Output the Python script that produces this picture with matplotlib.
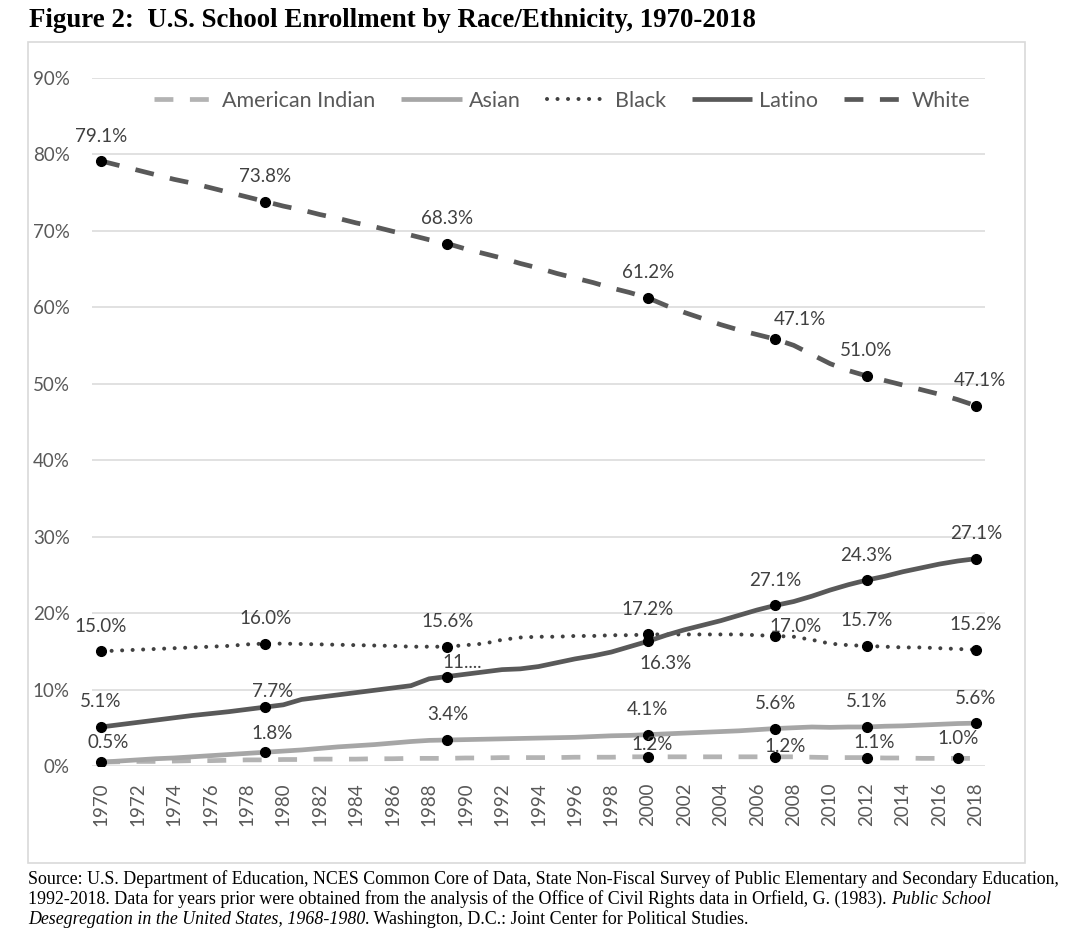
import numpy as np
import matplotlib.pyplot as plt
from matplotlib.lines import Line2D
from matplotlib.patches import Rectangle

years = np.arange(1970, 2019)

american_indian = [0.5, 0.55, 0.6, 0.6, 0.65, 0.7, 0.7, 0.75, 0.8, 0.8,
                   0.85, 0.85, 0.9, 0.9, 0.9, 0.95, 0.95, 1.0, 1.0, 1.0,
                   1.05, 1.05, 1.1, 1.1, 1.1, 1.1, 1.15, 1.15, 1.15, 1.2,
                   1.2, 1.2, 1.2, 1.2, 1.2, 1.2, 1.2, 1.2, 1.2, 1.15,
                   1.1, 1.1, 1.1, 1.05, 1.05, 1.0, 1.0, 1.0, 1.0]
asian = [0.5, 0.65, 0.8, 0.95, 1.05, 1.2, 1.35, 1.5, 1.65, 1.8,
         1.95, 2.1, 2.3, 2.5, 2.65, 2.8, 3.0, 3.2, 3.35, 3.4,
         3.45, 3.5, 3.55, 3.6, 3.65, 3.7, 3.75, 3.85, 3.95, 4.0,
         4.1, 4.2, 4.3, 4.4, 4.5, 4.6, 4.75, 4.9, 5.0, 5.1,
         5.05, 5.1, 5.1, 5.2, 5.25, 5.35, 5.45, 5.55, 5.6]
black = [15.0, 15.1, 15.2, 15.3, 15.4, 15.5, 15.6, 15.7, 15.9, 16.0,
         16.0, 15.95, 15.9, 15.85, 15.8, 15.75, 15.7, 15.6, 15.6, 15.6,
         15.8, 16.0, 16.5, 16.8, 16.9, 16.9, 17.0, 17.0, 17.1, 17.1,
         17.2, 17.2, 17.2, 17.2, 17.2, 17.2, 17.1, 17.0, 16.9, 16.5,
         16.0, 15.8, 15.7, 15.6, 15.5, 15.5, 15.4, 15.3, 15.2]
latino = [5.1, 5.4, 5.7, 6.0, 6.3, 6.6, 6.85, 7.1, 7.4, 7.7,
          8.0, 8.7, 9.0, 9.3, 9.6, 9.9, 10.2, 10.5, 11.4, 11.7,
          12.0, 12.3, 12.6, 12.7, 13.0, 13.5, 14.0, 14.4, 14.9, 15.6,
          16.3, 17.1, 17.8, 18.4, 19.0, 19.7, 20.4, 21.0, 21.5, 22.2,
          23.0, 23.7, 24.3, 24.8, 25.4, 25.9, 26.4, 26.8, 27.1]
white = [79.1, 78.5, 77.9, 77.3, 76.7, 76.2, 75.6, 75.0, 74.4, 73.8,
         73.2, 72.7, 72.1, 71.6, 71.0, 70.5, 69.9, 69.4, 68.8, 68.3,
         67.6, 67.0, 66.4, 65.7, 65.1, 64.4, 63.8, 63.2, 62.5, 61.9,
         61.2, 60.2, 59.3, 58.5, 57.7, 57.0, 56.4, 55.8, 55.0, 53.8,
         52.6, 51.7, 51.0, 50.4, 49.8, 49.2, 48.6, 47.9, 47.1]

label_years = [1970, 1979, 1989, 2000, 2007, 2012, 2018]
amind_label_years = [2000, 2007, 2012, 2017]

white_labels = ['79.1%', '73.8%', '68.3%', '61.2%', '47.1%', '51.0%', '47.1%']
black_labels = ['15.0%', '16.0%', '15.6%', '17.2%', '17.0%', '15.7%', '15.2%']
latino_labels = ['5.1%', '7.7%', '11....', '16.3%', '27.1%', '24.3%', '27.1%']
asian_labels = ['0.5%', '1.8%', '3.4%', '4.1%', '5.6%', '5.1%', '5.6%']
amind_labels = ['1.2%', '1.2%', '1.1%', '1.0%']

# label offsets in pixels (dx, dy) from the marker
white_off = [(0, 24), (0, 25), (0, 25), (0, 25), (24, 20), (0, 25), (4, 25)]
black_off = [(0, 25), (0, 25), (0, 25), (0, 25), (20, 9), (0, 25), (0, 25)]
latino_off = [(0, 25), (7, 16), (15, 14), (18, -22), (0, 25), (0, 25), (0, 25)]
asian_off = [(7, 20), (7, 19), (0, 25), (0, 25), (0, 25), (0, 25), (0, 25)]
amind_off = [(4, 12), (10, 10), (8, 15), (0, 20)]

W, H = 1073, 931
fig = plt.figure(figsize=(W / 100, H / 100), dpi=100)
fig.patches.append(Rectangle((28 / W, (H - 863) / H), 997 / W, 821 / H,
                             transform=fig.transFigure, fill=False,
                             edgecolor='#d9d9d9', lw=1.2))
ax = fig.add_axes([92 / W, (H - 766) / H, 893 / W, 688.4 / H])

txt = '#404040'
tick_c = '#595959'
font = 'Lato'

series = [
    ('American Indian', american_indian, dict(color='#b3b3b3', lw=3.4, dashes=(4.0, 3.5))),
    ('Asian', asian, dict(color='#a6a6a6', lw=3.4, ls='-')),
    ('Black', black, dict(color='#404040', lw=2.9, dashes=(0.01, 2.6), dash_capstyle='round')),
    ('Latino', latino, dict(color='#595959', lw=3.4, ls='-')),
    ('White', white, dict(color='#595959', lw=3.4, dashes=(4.0, 3.5))),
]
handles = []
for name, vals, st in series:
    ax.plot(years, vals, solid_capstyle='round', zorder=3, **st)
    handles.append(Line2D([], [], solid_capstyle='butt', **st))

def mark(vals, yrs, labels, offs):
    for yr, lab, (dx, dy) in zip(yrs, labels, offs):
        v = vals[yr - 1970]
        ax.plot(yr, v, 'o', color='black', ms=7, zorder=5)
        ax.annotate(lab, (yr, v), xytext=(dx, dy), textcoords='offset pixels',
                    ha='center', va='center', fontsize=13.5, color=txt,
                    family=font, zorder=6)

mark(american_indian, amind_label_years, amind_labels, amind_off)
mark(asian, label_years, asian_labels, asian_off)
mark(black, label_years, black_labels, black_off)
mark(latino, label_years, latino_labels, latino_off)
mark(white, label_years, white_labels, white_off)

ax.set_xlim(1969.5, 2018.5)
ax.set_ylim(0, 90)
ax.set_yticks(np.arange(0, 91, 10))
ax.set_yticklabels([f'{v}%' for v in range(0, 91, 10)])
ax.set_xticks(years[::2])
ax.set_xticklabels([str(y) for y in years[::2]], rotation=90)
ax.tick_params(axis='both', length=0, labelsize=13.5, labelcolor=tick_c)
ax.tick_params(axis='y', pad=16)
ax.tick_params(axis='x', pad=12)
for lab in ax.get_xticklabels() + ax.get_yticklabels():
    lab.set_family(font)
ax.grid(axis='y', color='#d9d9d9', lw=1.1)
ax.set_axisbelow(True)
for s in ax.spines.values():
    s.set_visible(False)

leg = ax.legend(handles, [s[0] for s in series], loc='center',
                bbox_to_anchor=(0.527, 0.966), ncol=5, frameon=False,
                handlelength=2.8, handletextpad=0.35, columnspacing=1.2,
                prop={'family': font, 'size': 15.5})
for t in leg.get_texts():
    t.set_color(tick_c)

fig.text(29 / W, (H - 27) / H,
         'Figure 2:  U.S. School Enrollment by Race/Ethnicity, 1970-2018',
         family='Liberation Serif', weight='bold', fontsize=19.4, va='baseline')

src = dict(family='Liberation Serif', fontsize=12.9, color='black')
fig.text(28 / W, (H - 884) / H,
         'Source: U.S. Department of Education, NCES Common Core of Data, State Non-Fiscal '
         'Survey of Public Elementary and Secondary Education,', va='baseline', **src)
t2 = fig.text(28 / W, (H - 904) / H,
              '1992-2018. Data for years prior were obtained from the analysis of the Office '
              'of Civil Rights data in Orfield, G. (1983).', va='baseline', **src)
ax.annotate('Public School', xy=(1, 0), xycoords=t2, xytext=(3.2, 0),
            textcoords='offset points', va='bottom', ha='left',
            style='italic', annotation_clip=False, **src)
t3 = fig.text(28 / W, (H - 924) / H, 'Desegregation in the United States, 1968-1980',
              va='baseline', style='italic', **src)
ax.annotate('. Washington, D.C.: Joint Center for Political Studies.', xy=(1, 0),
            xycoords=t3, va='bottom', ha='left', annotation_clip=False, **src)

fig.savefig('out.png', dpi=100)
